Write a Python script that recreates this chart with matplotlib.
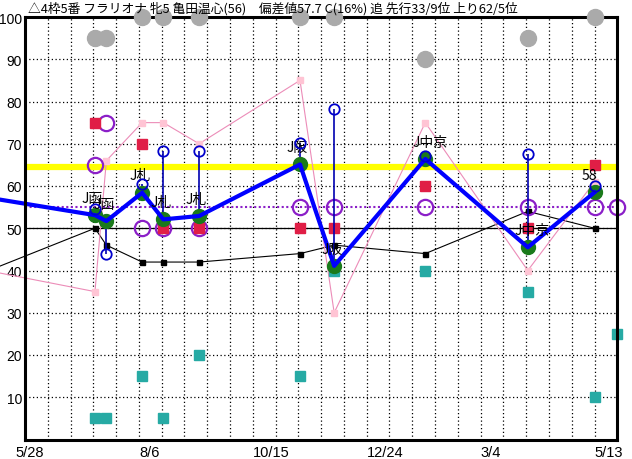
import matplotlib
matplotlib.use('Agg')
import matplotlib.pyplot as plt
import matplotlib.transforms as mtransforms
import numpy as np

plt.rcParams['font.family'] = ['Noto Sans CJK JP', 'DejaVu Sans']

title = '△4枠5番 フラリオナ 牝5 亀田温心(56)　偏差値57.7 C(16%) 追 先行33/9位 上り62/5位'

# x = days counted from 5/28
days = [43, 50, 72, 85, 107, 169, 190, 246, 309, 350]
prev_day = -30     # last race before the window (off chart)
next_day = 364     # next race, right edge
labels = ['J函', 'J函', 'J札', 'J札', 'J札', 'J阪', 'J阪', 'J中京', 'J中京', '58']

score = [53.1, 51.7, 58.4, 52.1, 52.9, 65.1, 41.1, 66.4, 45.5, 58.5]
prev_score = 57.7
best = [54.5, 44, 60.4, 68.2, 68.4, 70.2, 78.2, 67, 67.6, 60]
black_vals = [50, 46, 42, 42, 42, 44, 46, 44, 54, 50]
prev_black = 38.8
pink_vals = [35, 66, 75, 75, 70, 85, 30, 75, 40, 61]
prev_pink = 40.5
red_vals = [75, 95, 70, 50, 50, 50, 50, 60, 50, 65]
cyan_vals = [5, 5, 15, 5, 20, 15, 40, 40, 35, 10]
next_cyan = 25
purple_vals = [65, 75, 50, 50, 50, 55, 55, 55, 55, 55]
next_purple = 55
gray_vals = [95, 95, 100, 100, 100, 100, 100, 90, 95, 100]

yellow_level = 64.5
purple_level = 55

xtick_days = [0, 70, 140, 210, 280, 350]
xtick_labels = ['5/28', '8/6', '10/15', '12/24', '3/4', '5/13']
ytick_vals = [10, 20, 30, 40, 50, 60, 70, 80, 90, 100]

fig = plt.figure(figsize=(6.32, 4.6), dpi=100)
ax = fig.add_axes([25/632, 19.5/460, 592.3/632, 422.5/460])
ax.set_xlim(0, 364)
ax.set_ylim(0, 100)

# grid: every 14 days, every 10 points
ax.set_xticks(xtick_days)
ax.set_xticklabels(xtick_labels)
ax.set_xticks(np.arange(0, 365, 14), minor=True)
ax.set_yticks(ytick_vals)
ax.grid(which='both', color='k', ls=(0, (1, 2)), lw=0.9, zorder=1)
ax.tick_params(which='both', length=0, labelfontfamily='Liberation Sans')
ax.tick_params(axis='x', pad=4, labelsize=10.5)
ax.tick_params(axis='y', pad=2, labelsize=10)
xl = ax.get_xticklabels()
xl[0].set_transform(xl[0].get_transform() + mtransforms.ScaledTranslation(5/100, 0, fig.dpi_scale_trans))
for t in xl[1:]:
    t.set_ha('left')
for s in ax.spines.values():
    s.set_linewidth(2.2)
    s.set_zorder(12)
ax.axhline(50, color='k', lw=0.9, zorder=2)

ax.axhline(yellow_level, color='#ffff00', lw=4.5, zorder=2)
ax.axhline(purple_level, color='#8b1fc8', ls=(0, (1, 1.2)), lw=1.5, zorder=2)

ax.plot([prev_day] + days, [prev_black] + black_vals, color='k', lw=0.8, zorder=3, clip_on=False)
ax.plot(days, black_vals, 's', color='k', ms=3.6, zorder=3)
ax.plot([prev_day] + days, [prev_pink] + pink_vals, color='#ec8cb8', lw=0.8, zorder=3, clip_on=False)
ax.plot(days, pink_vals, 's', color='#ffc4d4', ms=3.8, zorder=3)

ax.plot(days + [next_day], purple_vals + [next_purple], 'o', mfc='none', mec='#8b1fc8',
        ms=11, mew=1.6, zorder=4, clip_on=False)
ax.plot(days, red_vals, 's', color='#e01e46', ms=7.2, zorder=5, clip_on=False)
ax.plot(days + [next_day], cyan_vals + [next_cyan], 's', color='#26aaa4', ms=6.5, zorder=5, clip_on=False)
ax.plot(days, gray_vals, 'o', color='#aaaaaa', ms=11.5, zorder=13, clip_on=False)

ax.vlines(days, score, best, color='#0000b0', lw=1.2, zorder=6)
ax.plot(days, score, 'o', color='#1a7a1a', ms=10, zorder=7)
ax.plot([prev_day] + days, [prev_score] + score, color='#0000ff', lw=3, zorder=8, clip_on=False)
ax.plot(days, best, 'o', mfc='none', mec='#0000cc', ms=7.5, mew=1.3, zorder=10)

for d, v, lab in zip(days, score, labels):
    ax.annotate(lab, (d, v), xytext=(-9.4, 12.5), textcoords='offset points',
                ha='left', va='center', fontsize=10, zorder=9)

fig.text(28/632, 1 - 9/460, title, ha='left', va='center', fontsize=9.2)

fig.savefig('out.png', dpi=100)
